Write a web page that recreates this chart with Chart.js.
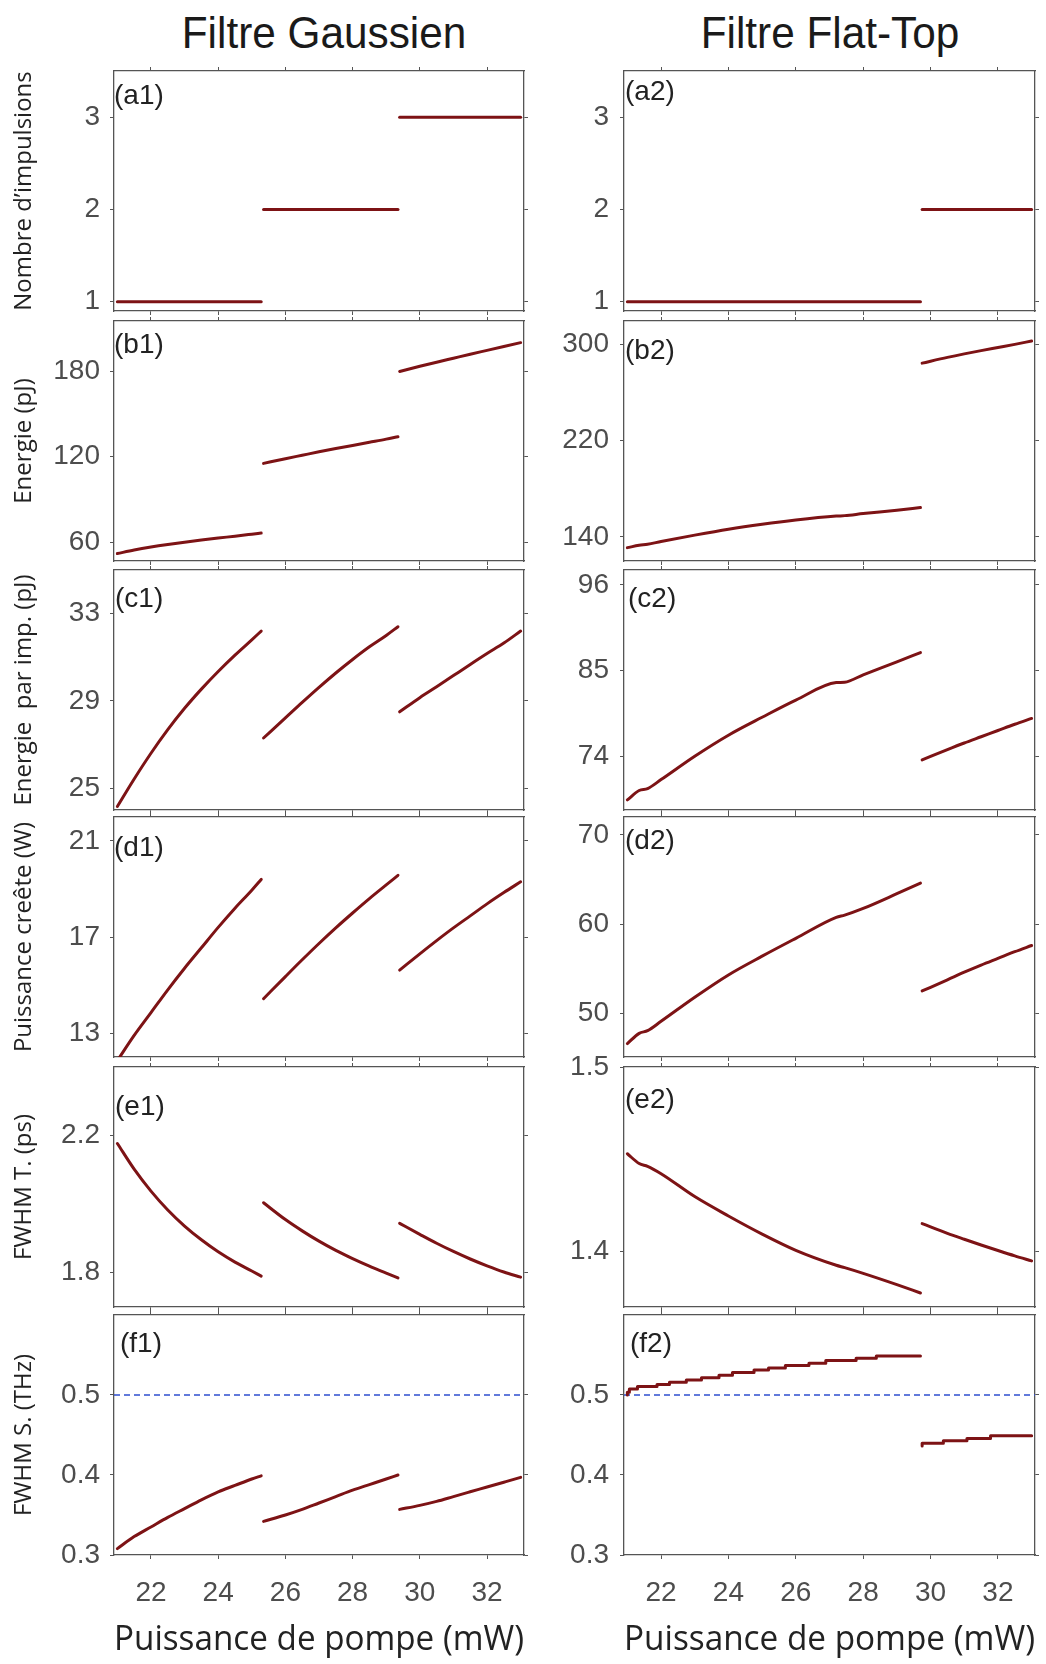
<!DOCTYPE html>
<html>
<head>
<meta charset="utf-8">
<script src="https://cdn.jsdelivr.net/npm/chart.js@4.4.1/dist/chart.umd.min.js"></script>
<style>
  body { margin: 0; background: #fff; width: 1046px; height: 1664px; position: relative; overflow: hidden; }
  canvas { position: absolute; }
  .coltitle {
    position: absolute; top: 7px; line-height: 45px; white-space: nowrap;
    font: 45px "Liberation Sans", Arial, sans-serif; color: #1a1a1a;
    transform: translateX(-50%) scaleX(0.94);
  }
</style>
</head>
<body>
<div class="coltitle" style="left:324px">Filtre Gaussien</div>
<div class="coltitle" style="left:830px">Filtre Flat-Top</div>

<script>
// Axe x commun (puissance de pompe, mW)
const xMin = 20.9, xMax = 33.1;
const xTicks = [22, 24, 26, 28, 30, 32];

// Filtre gaussien : 3 segments (1, 2 puis 3 impulsions)
const gSeg1X = [21, 21.5, 22, 22.5, 23, 23.5, 24, 24.5, 25, 25.28];
const gSeg2X = [25.35, 26, 26.5, 27, 27.5, 28, 28.5, 29, 29.35];
const gSeg3X = [29.4, 30, 30.5, 31, 31.5, 32, 32.5, 33];

const nbImpG = [1, 2, 3];
const energieG1 = [52.0, 54.5, 56.6, 58.4, 60.0, 61.5, 62.9, 64.2, 65.6, 66.4];
const energieG2 = [115.3, 118.6, 121.0, 123.4, 125.7, 127.9, 130.1, 132.3, 134.0];
const energieG3 = [179.8, 183.4, 186.3, 189.1, 191.9, 194.6, 197.3, 200.0];
const eImpG1 = [24.16, 25.42, 26.6, 27.68, 28.66, 29.54, 30.35, 31.1, 31.8, 32.2];
const eImpG2 = [27.3, 28.22, 28.93, 29.62, 30.28, 30.9, 31.48, 32.0, 32.4];
const eImpG3 = [28.5, 29.15, 29.65, 30.16, 30.67, 31.17, 31.65, 32.2];
const pCreteG1 = [11.85, 12.9, 13.85, 14.8, 15.7, 16.55, 17.4, 18.2, 18.95, 19.4];
const pCreteG2 = [14.43, 15.35, 16.05, 16.73, 17.38, 18.0, 18.6, 19.17, 19.57];
const pCreteG3 = [15.62, 16.3, 16.85, 17.38, 17.88, 18.38, 18.85, 19.3];
const fwhmTG1 = [2.177, 2.102, 2.038, 1.983, 1.936, 1.896, 1.861, 1.831, 1.805, 1.79];
const fwhmTG2 = [2.004, 1.955, 1.922, 1.892, 1.865, 1.841, 1.819, 1.799, 1.785];
const fwhmTG3 = [1.944, 1.912, 1.886, 1.862, 1.84, 1.82, 1.802, 1.787];
const fwhmSG1 = [0.308, 0.323, 0.335, 0.347, 0.358, 0.369, 0.379, 0.387, 0.395, 0.399];
const fwhmSG2 = [0.342, 0.35, 0.357, 0.365, 0.373, 0.381, 0.388, 0.395, 0.4];
const fwhmSG3 = [0.357, 0.362, 0.367, 0.373, 0.379, 0.385, 0.391, 0.397];

// Filtre flat-top : 2 segments (1 puis 2 impulsions)
const ftSeg1X = [21, 21.35, 21.6, 22, 23, 24, 25, 26, 27.2, 27.45, 28, 29, 29.7];
const ftSeg2X = [29.75, 30.5, 31, 31.5, 32, 32.5, 33];

const nbImpFT = [1, 2];
const energieFT1 = [131.1, 133.0, 133.9, 136.2, 141.5, 146.4, 150.5, 154.0, 157.3, 157.7, 159.4, 162.2, 164.4];
const energieFT2 = [284.4, 289.2, 292.1, 294.8, 297.4, 300.0, 302.8];
const eImpFT1 = [68.4, 69.6, 69.85, 71.0, 74.0, 76.7, 79.0, 81.2, 83.45, 83.5, 84.45, 86.1, 87.3];
const eImpFT2 = [73.53, 74.85, 75.7, 76.5, 77.3, 78.1, 78.85];
const pCreteFT1 = [46.6, 47.75, 48.05, 49.1, 51.8, 54.3, 56.4, 58.4, 60.75, 61.0, 61.75, 63.4, 64.6];
const pCreteFT2 = [52.5, 53.75, 54.6, 55.4, 56.15, 56.9, 57.6];
const fwhmTFT1 = [1.453, 1.4477, 1.4462, 1.4422, 1.4298, 1.4193, 1.4095, 1.4007, 1.3926, 1.3913, 1.3882, 1.3821, 1.3776];
const fwhmTFT2 = [1.4152, 1.4099, 1.4067, 1.4036, 1.4006, 1.3977, 1.395];
// largeur spectrale en marches d'escalier
const ftStepX1 = [21, 21.06, 21.3, 21.88, 22.25, 22.75, 23.2, 23.72, 24.12, 24.76, 25.19, 25.69, 26.39, 26.89, 27.79, 28.39, 29.19, 29.7];
const fwhmSFT1 = [0.5, 0.5033, 0.5075, 0.5105, 0.513, 0.5159, 0.5188, 0.5217, 0.5247, 0.528, 0.5314, 0.5339, 0.5368, 0.5397, 0.543, 0.546, 0.5489, 0.5489];
const ftStepX2 = [29.75, 30.38, 31.08, 31.78, 32.58, 33];
const fwhmSFT2 = [0.4364, 0.4397, 0.4427, 0.4456, 0.449, 0.449];

const seuilFwhmS = 0.5; // ligne pointillée

// Graduations y
const ticksNb = [1, 2, 3];
const ticksEnG = [60, 120, 180];
const ticksEnFT = [140, 220, 300];
const ticksImpG = [25, 29, 33];
const ticksImpFT = [74, 85, 96];
const ticksPcG = [13, 17, 21];
const ticksPcFT = [50, 60, 70];
const ticksTG = [1.8, 2.2];
const ticksTFT = [1.4, 1.5];
const ticksS = [0.3, 0.4, 0.5];

// Mise en page
const rowTops = [71, 321, 570, 817, 1067, 1315];
const areaH = 240;
const topMargin = 20;
const red = '#7d1315';
const axisColor = '#555';
const tickFont = { family: '"Liberation Sans", Arial, sans-serif', size: 28 };
const titleFamily = '"Open Sans", "Noto Sans", sans-serif';

const flat = (xs, v) => ({ x: [xs[0], xs[xs.length - 1]], y: [v, v] });

const panels = [
  { col: 0, row: 0, label: '(a1)', dx: 0, dy: 33, yMin: 0.9, yMax: 3.5, yTicks: ticksNb, title: 'Nombre d’impulsions',
    series: [flat(gSeg1X, nbImpG[0]), flat(gSeg2X, nbImpG[1]), flat(gSeg3X, nbImpG[2])] },
  { col: 1, row: 0, label: '(a2)', dx: 1, dy: 29, yMin: 0.9, yMax: 3.5, yTicks: ticksNb,
    series: [flat(ftSeg1X, nbImpFT[0]), flat(ftSeg2X, nbImpFT[1])] },
  { col: 0, row: 1, label: '(b1)', dx: 0, dy: 32, yMin: 46.8, yMax: 215.2, yTicks: ticksEnG, title: 'Energie (pJ)',
    series: [{ x: gSeg1X, y: energieG1 }, { x: gSeg2X, y: energieG2 }, { x: gSeg3X, y: energieG3 }] },
  { col: 1, row: 1, label: '(b2)', dx: 1, dy: 38, yMin: 120, yMax: 319.4, yTicks: ticksEnFT,
    series: [{ x: ftSeg1X, y: energieFT1 }, { x: ftSeg2X, y: energieFT2 }] },
  { col: 0, row: 2, label: '(c1)', dx: 1, dy: 37, yMin: 24.0, yMax: 35.0, yTicks: ticksImpG, title: 'Energie  par imp. (pJ)',
    series: [{ x: gSeg1X, y: eImpG1 }, { x: gSeg2X, y: eImpG2 }, { x: gSeg3X, y: eImpG3 }] },
  { col: 1, row: 2, label: '(c2)', dx: 4, dy: 37, yMin: 67.1, yMax: 97.9, yTicks: ticksImpFT,
    series: [{ x: ftSeg1X, y: eImpFT1 }, { x: ftSeg2X, y: eImpFT2 }] },
  { col: 0, row: 3, label: '(d1)', dx: 0, dy: 39, yMin: 12.0, yMax: 22.0, yTicks: ticksPcG, title: 'Puissance creête (W)',
    series: [{ x: gSeg1X, y: pCreteG1 }, { x: gSeg2X, y: pCreteG2 }, { x: gSeg3X, y: pCreteG3 }] },
  { col: 1, row: 3, label: '(d2)', dx: 1, dy: 32, yMin: 45.1, yMax: 72.0, yTicks: ticksPcFT,
    series: [{ x: ftSeg1X, y: pCreteFT1 }, { x: ftSeg2X, y: pCreteFT2 }] },
  { col: 0, row: 4, label: '(e1)', dx: 1, dy: 48, yMin: 1.7, yMax: 2.4, yTicks: ticksTG, title: 'FWHM T. (ps)',
    series: [{ x: gSeg1X, y: fwhmTG1 }, { x: gSeg2X, y: fwhmTG2 }, { x: gSeg3X, y: fwhmTG3 }] },
  { col: 1, row: 4, label: '(e2)', dx: 1, dy: 41, yMin: 1.37, yMax: 1.5, yTicks: ticksTFT,
    series: [{ x: ftSeg1X, y: fwhmTFT1 }, { x: ftSeg2X, y: fwhmTFT2 }] },
  { col: 0, row: 5, label: '(f1)', dx: 6, dy: 37, yMin: 0.3, yMax: 0.6, yTicks: ticksS, title: 'FWHM S. (THz)', seuil: true,
    series: [{ x: gSeg1X, y: fwhmSG1 }, { x: gSeg2X, y: fwhmSG2 }, { x: gSeg3X, y: fwhmSG3 }] },
  { col: 1, row: 5, label: '(f2)', dx: 6, dy: 37, yMin: 0.3, yMax: 0.6, yTicks: ticksS, seuil: true,
    series: [{ x: ftStepX1, y: fwhmSFT1, stepped: 'after' }, { x: ftStepX2, y: fwhmSFT2, stepped: 'after' }] },
];

// étiquette (a1), (b2)... dans le coin du cadre
const panelLabel = {
  id: 'panelLabel',
  afterDraw(chart, args, opts) {
    const { ctx, chartArea } = chart;
    ctx.save();
    ctx.font = '28px "Liberation Sans", Arial, sans-serif';
    ctx.fillStyle = '#222';
    ctx.textBaseline = 'alphabetic';
    ctx.fillText(opts.text, chartArea.left + opts.dx, chartArea.top + opts.dy);
    ctx.restore();
  }
};

const noPad = (s) => { s.paddingTop = 0; s.paddingBottom = 0; s.paddingLeft = 0; s.paddingRight = 0; };
const setTicks = (vals) => (s) => { s.ticks = vals.map((v) => ({ value: v })); };

const frameGrid = { drawOnChartArea: false, drawTicks: true, tickLength: 4, color: axisColor, lineWidth: 1 };
const frameBorder = { display: true, color: axisColor, width: 1.3 };

panels.forEach((p) => {
  const left = p.col === 0 ? 0 : 520;
  const yW = p.col === 0 ? 114 : 104;
  const areaW = p.col === 0 ? 410 : 411;
  const isBottom = p.row === 5;
  const bottomH = isBottom ? 109 : 20;
  const W = yW + areaW + 5;
  const H = topMargin + areaH + bottomH;

  const cv = document.createElement('canvas');
  cv.width = W; cv.height = H;
  cv.style.left = left + 'px';
  cv.style.top = (rowTops[p.row] - topMargin) + 'px';
  cv.style.width = W + 'px';
  cv.style.height = H + 'px';
  document.body.appendChild(cv);

  const datasets = p.series.map((s) => ({
    data: s.x.map((x, i) => ({ x, y: s.y[i] })),
    borderColor: red,
    borderWidth: 3,
    pointRadius: 0,
    cubicInterpolationMode: 'monotone',
    stepped: s.stepped || false,
    borderCapStyle: 'round',
    borderJoinStyle: 'round',
  }));
  if (p.seuil) {
    datasets.push({
      data: [{ x: xMin, y: seuilFwhmS }, { x: xMax, y: seuilFwhmS }],
      borderColor: '#2f4fd0',
      borderWidth: 1.4,
      borderDash: [6, 4],
      pointRadius: 0,
    });
  }

  new Chart(cv, {
    type: 'line',
    data: { datasets },
    options: {
      responsive: false,
      animation: false,
      devicePixelRatio: 1,
      layout: { padding: 0, autoPadding: false },
      plugins: {
        legend: { display: false },
        tooltip: { enabled: false },
        panelLabel: { text: p.label, dx: p.dx, dy: p.dy },
      },
      scales: {
        x: {
          type: 'linear', position: 'bottom', min: xMin, max: xMax,
          afterBuildTicks: setTicks(xTicks),
          afterFit: (s) => { s.height = bottomH; noPad(s); },
          grid: frameGrid, border: frameBorder,
          ticks: { display: isBottom, font: tickFont, color: '#4d4d4d', padding: 17, maxRotation: 0, callback: (v) => String(v) },
          title: {
            display: isBottom, text: 'Puissance de pompe (mW)', color: '#222',
            font: { family: titleFamily, size: 34 }, padding: { top: 0, bottom: 3 },
          },
        },
        xTop: {
          type: 'linear', position: 'top', min: xMin, max: xMax,
          afterBuildTicks: setTicks(xTicks),
          afterFit: (s) => { s.height = topMargin; noPad(s); },
          grid: frameGrid, border: frameBorder,
          ticks: { display: false },
        },
        y: {
          type: 'linear', position: 'left', min: p.yMin, max: p.yMax,
          afterBuildTicks: setTicks(p.yTicks),
          afterFit: (s) => { s.width = yW; noPad(s); },
          grid: frameGrid, border: frameBorder,
          ticks: { font: tickFont, color: '#4d4d4d', padding: p.col === 0 ? 10 : 11, callback: (v) => String(v) },
          title: {
            display: !!p.title, text: p.title || '', color: '#222',
            font: { family: titleFamily, size: 24 }, padding: { top: 10, bottom: 0 },
          },
        },
        yRight: {
          type: 'linear', position: 'right', min: p.yMin, max: p.yMax,
          afterBuildTicks: setTicks(p.yTicks),
          afterFit: (s) => { s.width = 5; noPad(s); },
          grid: frameGrid, border: frameBorder,
          ticks: { display: false },
        },
      },
    },
    plugins: [panelLabel],
  });
});
</script>
</body>
</html>
